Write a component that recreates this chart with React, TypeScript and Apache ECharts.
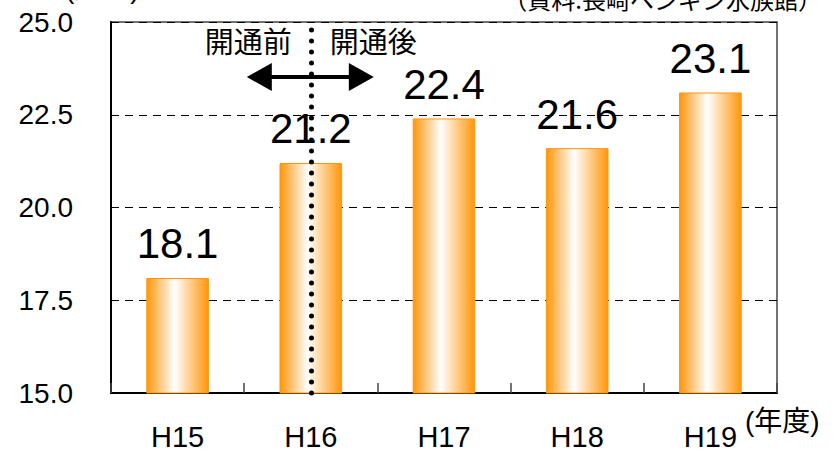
import React, { useEffect, useRef } from "react";
import * as echarts from "echarts";

// 年度別入館者数（万人）
const categories = ["H15", "H16", "H17", "H18", "H19"];
const visitors = [18.1, 21.2, 22.4, 21.6, 23.1];
const yMin = 15;
const yMax = 25;
const yInterval = 2.5;
// 開通年度（この年度の中央に区切り線を引く）
const openingYear = "H16";

const NUM_FONT = "'Liberation Sans', Arial, sans-serif";
const JP_FONT = "'Liberation Sans', 'Noto Sans CJK JP', sans-serif";
const CJK_FONT = "'Noto Sans CJK JP', sans-serif";

export default function App() {
  const ref = useRef<HTMLDivElement>(null);

  useEffect(() => {
    document.body.style.margin = "0";
    if (!ref.current) return;
    const chart = echarts.init(ref.current, undefined, { renderer: "svg" });

    const barFill = new echarts.graphic.LinearGradient(0, 0, 1, 0, [
      { offset: 0, color: "#ff960a" },
      { offset: 0.45, color: "#ffffff" },
      { offset: 1, color: "#ff960a" },
    ]);

    chart.setOption({
      animation: false,
      backgroundColor: "#ffffff",
      grid: {
        left: 111,
        right: 57,
        top: 22,
        bottom: 61,
        show: true,
        borderColor: "#444",
        borderWidth: 1.5,
      },
      xAxis: {
        type: "category",
        data: categories,
        axisLine: { lineStyle: { color: "#000", width: 2 } },
        axisTick: {
          show: true,
          inside: true,
          length: 10,
          lineStyle: { color: "#444", width: 1.5 },
        },
        axisLabel: {
          color: "#000",
          fontFamily: NUM_FONT,
          fontSize: 29,
          margin: 29,
        },
        splitLine: { show: false },
      },
      yAxis: {
        type: "value",
        min: yMin,
        max: yMax,
        interval: yInterval,
        axisLine: { show: true, lineStyle: { color: "#000", width: 2 } },
        axisTick: { show: false },
        axisLabel: {
          color: "#000",
          fontFamily: NUM_FONT,
          fontSize: 28,
          margin: 38,
          padding: [5, 0, 0, 0],
          formatter: (v: number) => v.toFixed(1),
        },
        splitLine: {
          show: true,
          lineStyle: { color: "#000", width: 1, type: [8, 6] },
        },
      },
      series: [
        {
          type: "bar",
          data: visitors,
          barWidth: "47%",
          itemStyle: {
            color: barFill,
            borderColor: "#ff960a",
            borderWidth: 1,
          },
          label: {
            show: true,
            position: "top",
            distance: 13,
            color: "#000",
            fontFamily: NUM_FONT,
            fontSize: 42,
            formatter: (p: any) => Number(p.value).toFixed(1),
          },
          markLine: {
            silent: true,
            symbol: "none",
            label: { show: false },
            lineStyle: {
              color: "#000",
              width: 5,
              type: [0.1, 10.9],
              cap: "round",
            },
            data: [{ xAxis: openingYear }],
          },
        },
      ],
    });

    const cx = chart.convertToPixel({ xAxisIndex: 0 }, openingYear) as number;
    const arrowY = 77;
    const tipL = cx - 64;
    const tipR = cx + 63;
    const headLen = 25;
    const headHalf = 14;

    chart.setOption({
      graphic: [
        {
          type: "text",
          left: 65,
          top: -26,
          style: { text: "(万人)", fontSize: 28, fontFamily: JP_FONT, fill: "#000" },
        },
        {
          type: "text",
          right: 12,
          top: -14,
          style: {
            text: "（資料:長崎ペンギン水族館）",
            fontSize: 24,
            fontFamily: CJK_FONT,
            fill: "#000",
          },
        },
        {
          type: "text",
          x: 745,
          y: 421,
          style: {
            text: "(年度)",
            fontSize: 28,
            fontFamily: JP_FONT,
            fill: "#000",
            verticalAlign: "middle",
          },
        },
        {
          type: "text",
          x: cx - 19,
          y: 40,
          style: {
            text: "開通前",
            fontSize: 29,
            fontFamily: CJK_FONT,
            fill: "#000",
            align: "right",
            verticalAlign: "middle",
          },
        },
        {
          type: "text",
          x: cx + 19,
          y: 40,
          style: {
            text: "開通後",
            fontSize: 29,
            fontFamily: CJK_FONT,
            fill: "#000",
            align: "left",
            verticalAlign: "middle",
          },
        },
        {
          type: "line",
          shape: { x1: tipL + headLen - 2, y1: arrowY, x2: tipR - headLen + 2, y2: arrowY },
          style: { stroke: "#000", lineWidth: 4 },
        },
        {
          type: "polygon",
          shape: {
            points: [
              [tipL, arrowY],
              [tipL + headLen, arrowY - headHalf],
              [tipL + headLen, arrowY + headHalf],
            ],
          },
          style: { fill: "#000" },
        },
        {
          type: "polygon",
          shape: {
            points: [
              [tipR, arrowY],
              [tipR - headLen, arrowY - headHalf],
              [tipR - headLen, arrowY + headHalf],
            ],
          },
          style: { fill: "#000" },
        },
      ],
    });

    return () => chart.dispose();
  }, []);

  return <div ref={ref} style={{ width: 834, height: 454 }} />;
}
